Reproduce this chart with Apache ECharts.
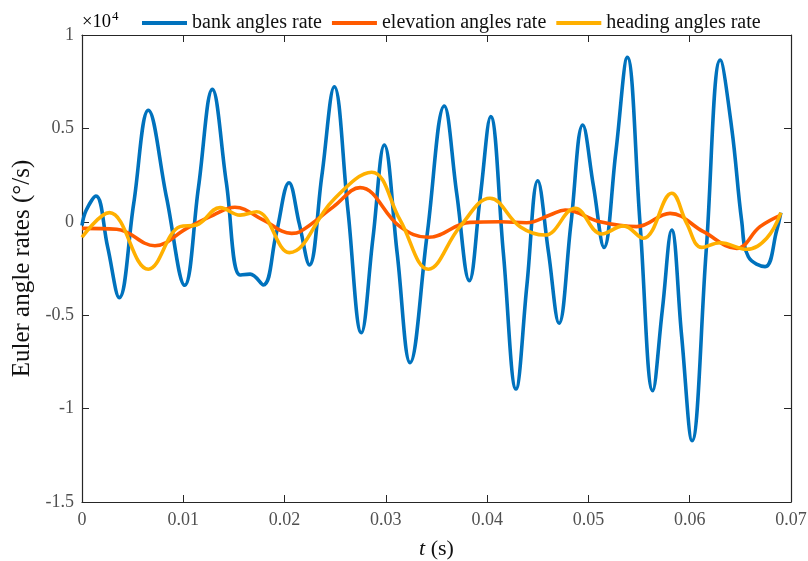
<!DOCTYPE html>
<html>
<head>
<meta charset="utf-8">
<script src="https://cdn.jsdelivr.net/npm/echarts@6/dist/echarts.min.js"></script>
<style>html,body{margin:0;padding:0;background:#fff}#c{width:808px;height:561px}</style>
</head>
<body>
<div id="c"></div>
<script>
// time (s) and values (°/s)
const bankT = [0.0000,0.0004,0.00138,0.00253,0.00368,0.0051,0.00655,0.00835,0.01014,0.0115,0.01287,0.01425,0.0156,0.0166,0.0179,0.01917,0.02044,0.02145,0.02245,0.02368,0.02491,0.02625,0.02758,0.02872,0.02985,0.03112,0.03239,0.03408,0.03577,0.037,0.03824,0.0393,0.04035,0.0416,0.04285,0.04393,0.045,0.04605,0.0471,0.04827,0.04944,0.0505,0.05154,0.0527,0.05384,0.0551,0.05635,0.0573,0.05822,0.0592,0.06023,0.06163,0.06302,0.06415,0.06514,0.06579,0.06744,0.0686,0.069];
const bankV = [-200,600,1380,-1340,-4060,960,5970,1290,-3400,1850,7090,2100,-2850,-2800,-3380,-650,2090,-100,-2310,2460,7230,650,-5940,-900,4110,-1700,-7540,-670,6200,1500,-3150,1240,5630,-1660,-8950,-3370,2200,-1600,-5430,-120,5180,1900,-1370,3700,8800,-120,-9040,-4700,-440,-6100,-11720,-1530,8660,5000,0,-1870,-2400,-440,490];

const elevT = [0.0000,0.00343,0.0072,0.01034,0.01297,0.0151,0.01787,0.0207,0.02152,0.02481,0.02745,0.0314,0.0342,0.0383,0.0413,0.0439,0.0462,0.0477,0.05115,0.05477,0.05806,0.06135,0.06464,0.06694,0.069];
const elevV = [-350,-400,-1280,-350,360,780,100,-620,-530,800,1830,-260,-830,-30,0,-50,360,630,0,-260,450,-530,-1420,-260,360];

const headT = [0.0000,0.0027,0.00655,0.00968,0.01132,0.01363,0.0156,0.01725,0.02047,0.02481,0.0286,0.0314,0.0342,0.03732,0.04028,0.04325,0.04571,0.04868,0.05131,0.05345,0.05542,0.05822,0.0597,0.06119,0.063,0.06563,0.0676,0.069];
const headV = [-830,490,-2540,-260,-170,760,360,540,-1650,1170,2650,100,-2540,-260,1260,-260,-710,720,-650,-220,-880,1530,-80,-1370,-1120,-1470,-880,490];

const seriesNames = ['bank angles rate','elevation angles rate','heading angles rate'];
const colors = ['#0072BD','#FF5A00','#FFB000'];
const xTicks = {min:0, max:0.07, interval:0.01};
const yTicks = {min:-15000, max:10000, interval:5000};

const zip = (t,v) => t.map((x,i)=>[x,v[i]]);
const FONT = '"Liberation Serif", "DejaVu Serif", serif';
const LBL = '#505050';
const chart = echarts.init(document.getElementById('c'), null, {renderer:'canvas'});
const axisLine = {show:true, onZero:false, lineStyle:{color:'#262626', width:1.2}};
const tickInside = {show:true, inside:true, length:7, lineStyle:{color:'#262626', width:1}};
chart.setOption({
  animation:false,
  backgroundColor:'#fff',
  grid:{left:82, right:17, top:35, bottom:59, containLabel:false, outerBoundsMode:'none'},
  legend:{
    left:137, top:8, itemWidth:45, itemHeight:4, itemGap:10, icon:'rect',
    textStyle:{fontFamily:FONT, fontSize:20, color:'#111'},
    data:seriesNames
  },
  xAxis:[{
    type:'value', min:xTicks.min, max:xTicks.max, interval:xTicks.interval,
    axisLine:axisLine, axisTick:tickInside, splitLine:{show:false},
    axisLabel:{fontFamily:FONT, fontSize:18, color:LBL, margin:9,
      formatter:v=> v===0?'0':String(+v.toFixed(2))},
    name:'{i|t} (s)', nameLocation:'middle', nameGap:36,
    nameTextStyle:{fontFamily:FONT, fontSize:22, color:'#111',
      rich:{i:{fontFamily:FONT, fontStyle:'italic', fontSize:22, color:'#111'}}}
  },{
    type:'value', position:'top', min:xTicks.min, max:xTicks.max, interval:xTicks.interval,
    axisLine:axisLine, axisTick:tickInside, axisLabel:{show:false}, splitLine:{show:false}
  }],
  yAxis:[{
    type:'value', min:yTicks.min, max:yTicks.max, interval:yTicks.interval,
    axisLine:axisLine, axisTick:tickInside, splitLine:{show:false},
    axisLabel:{fontFamily:FONT, fontSize:18, color:LBL, margin:8,
      formatter:v=> String(+(v/1e4).toFixed(1)).replace('\u2212','-')},
    name:'Euler angle rates (°/s)', nameLocation:'middle', nameGap:39, nameRotate:90,
    nameTextStyle:{fontFamily:FONT, fontSize:25, color:'#111'}
  },{
    type:'value', position:'right', min:yTicks.min, max:yTicks.max, interval:yTicks.interval,
    axisLine:axisLine, axisTick:tickInside, axisLabel:{show:false}, splitLine:{show:false}
  }],
  graphic:[{
    type:'text', left:82, top:10,
    style:{text:'{a|×10}{b|4}', rich:{
      a:{fontFamily:FONT, fontSize:18.5, color:LBL, verticalAlign:'bottom'},
      b:{fontFamily:FONT, fontSize:13, color:LBL, verticalAlign:'top', padding:[0,0,9,1]}
    }}
  }],
  series:[
    {name:seriesNames[0], type:'line', data:zip(bankT,bankV), smooth:0.4, showSymbol:false,
     lineStyle:{color:colors[0], width:3.6}, itemStyle:{color:colors[0]}},
    {name:seriesNames[1], type:'line', data:zip(elevT,elevV), smooth:0.4, showSymbol:false,
     lineStyle:{color:colors[1], width:3.6}, itemStyle:{color:colors[1]}},
    {name:seriesNames[2], type:'line', data:zip(headT,headV), smooth:0.4, showSymbol:false,
     lineStyle:{color:colors[2], width:3.6}, itemStyle:{color:colors[2]}}
  ]
});
</script>
</body>
</html>
